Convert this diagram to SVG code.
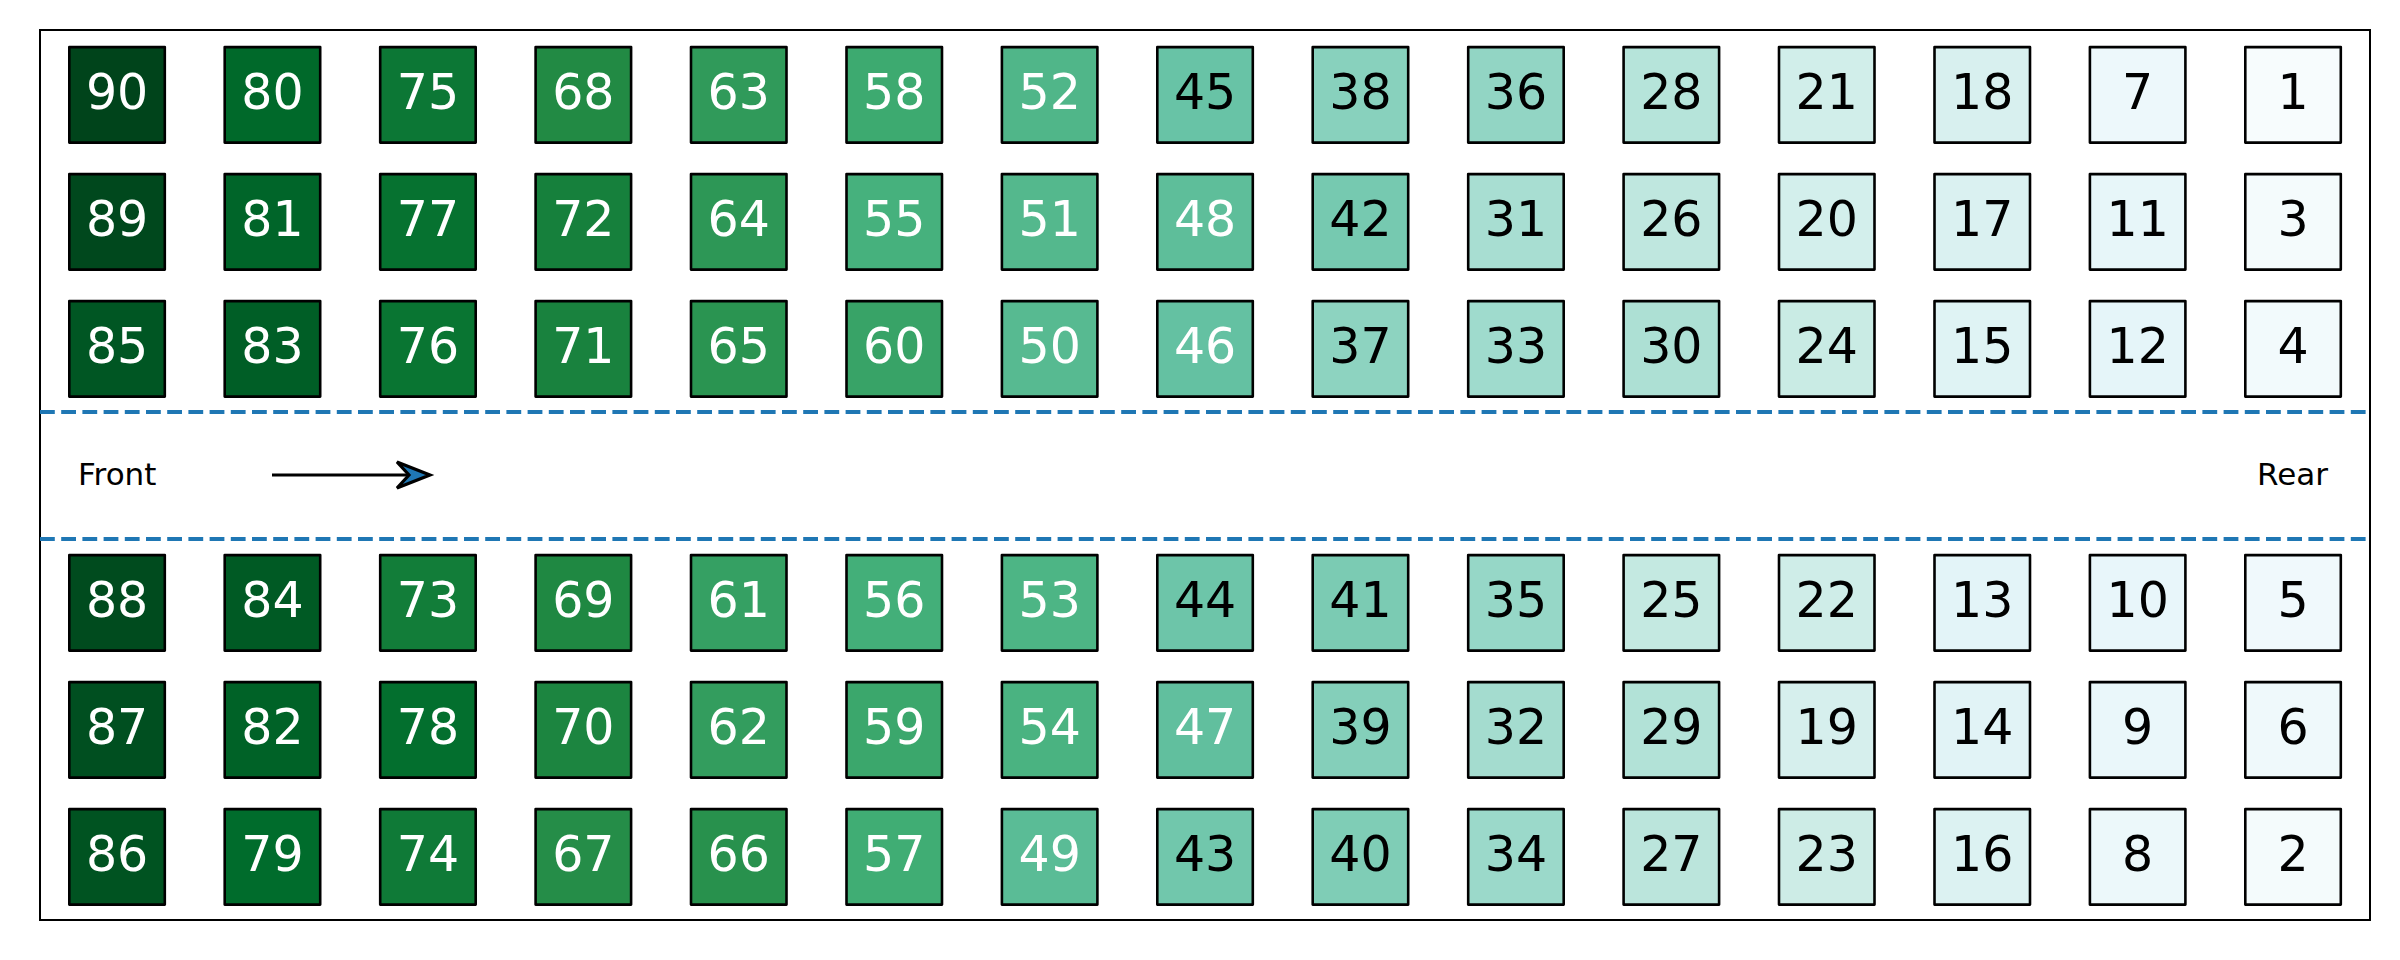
<svg xmlns="http://www.w3.org/2000/svg" width="2400" height="960" viewBox="0 0 2400 960">
<style>
.seat rect{stroke:#000;stroke-width:2.6;stroke-linejoin:round}
.seat text{font-family:"DejaVu Sans","Liberation Sans",sans-serif;font-size:49px;text-anchor:middle}
.w text{fill:#fff}
.b text{fill:#000}
.lbl{font-family:"DejaVu Sans","Liberation Sans",sans-serif;font-size:31px;fill:#000}
.aisle{stroke:#1f77b4;stroke-width:4;stroke-dasharray:14.8 6.4;fill:none}
</style>
<rect x="0" y="0" width="2400" height="960" fill="#fff"/>
<rect id="frame" x="40" y="30" width="2330" height="890" fill="none" stroke="#000" stroke-width="2"/>
<line class="aisle" x1="40" y1="412" x2="2370" y2="412"/>
<line class="aisle" x1="40" y1="539" x2="2370" y2="539"/>
<text class="lbl" x="78" y="485">Front</text>
<text class="lbl" x="2257" y="485">Rear</text>
<g id="connectors">
<line x1="272" y1="475" x2="420" y2="475" stroke="#000" stroke-width="3.2"/>
<path d="M397,462 L430,475 L397,488 L409,475 Z" fill="#1f77b4" stroke="#000" stroke-width="3.2" stroke-linejoin="miter"/>
</g>
<g id="seats">
<!-- col 0 -->
<g id="seat-90" class="seat w" transform="translate(117.05,94.85)"><rect x="-47.75" y="-47.75" width="95.5" height="95.5" fill="#00441b"/><text y="14">90</text></g>
<g id="seat-89" class="seat w" transform="translate(117.05,221.85)"><rect x="-47.75" y="-47.75" width="95.5" height="95.5" fill="#00481d"/><text y="14">89</text></g>
<g id="seat-85" class="seat w" transform="translate(117.05,348.85)"><rect x="-47.75" y="-47.75" width="95.5" height="95.5" fill="#005623"/><text y="14">85</text></g>
<g id="seat-88" class="seat w" transform="translate(117.05,602.85)"><rect x="-47.75" y="-47.75" width="95.5" height="95.5" fill="#004b1e"/><text y="14">88</text></g>
<g id="seat-87" class="seat w" transform="translate(117.05,729.85)"><rect x="-47.75" y="-47.75" width="95.5" height="95.5" fill="#004f20"/><text y="14">87</text></g>
<g id="seat-86" class="seat w" transform="translate(117.05,856.85)"><rect x="-47.75" y="-47.75" width="95.5" height="95.5" fill="#005321"/><text y="14">86</text></g>
<!-- col 1 -->
<g id="seat-80" class="seat w" transform="translate(272.45,94.85)"><rect x="-47.75" y="-47.75" width="95.5" height="95.5" fill="#00692a"/><text y="14">80</text></g>
<g id="seat-81" class="seat w" transform="translate(272.45,221.85)"><rect x="-47.75" y="-47.75" width="95.5" height="95.5" fill="#006529"/><text y="14">81</text></g>
<g id="seat-83" class="seat w" transform="translate(272.45,348.85)"><rect x="-47.75" y="-47.75" width="95.5" height="95.5" fill="#005e26"/><text y="14">83</text></g>
<g id="seat-84" class="seat w" transform="translate(272.45,602.85)"><rect x="-47.75" y="-47.75" width="95.5" height="95.5" fill="#005a24"/><text y="14">84</text></g>
<g id="seat-82" class="seat w" transform="translate(272.45,729.85)"><rect x="-47.75" y="-47.75" width="95.5" height="95.5" fill="#006227"/><text y="14">82</text></g>
<g id="seat-79" class="seat w" transform="translate(272.45,856.85)"><rect x="-47.75" y="-47.75" width="95.5" height="95.5" fill="#006c2c"/><text y="14">79</text></g>
<!-- col 2 -->
<g id="seat-75" class="seat w" transform="translate(427.95,94.85)"><rect x="-47.75" y="-47.75" width="95.5" height="95.5" fill="#0c7735"/><text y="14">75</text></g>
<g id="seat-77" class="seat w" transform="translate(427.95,221.85)"><rect x="-47.75" y="-47.75" width="95.5" height="95.5" fill="#067230"/><text y="14">77</text></g>
<g id="seat-76" class="seat w" transform="translate(427.95,348.85)"><rect x="-47.75" y="-47.75" width="95.5" height="95.5" fill="#097532"/><text y="14">76</text></g>
<g id="seat-73" class="seat w" transform="translate(427.95,602.85)"><rect x="-47.75" y="-47.75" width="95.5" height="95.5" fill="#127d39"/><text y="14">73</text></g>
<g id="seat-78" class="seat w" transform="translate(427.95,729.85)"><rect x="-47.75" y="-47.75" width="95.5" height="95.5" fill="#036f2e"/><text y="14">78</text></g>
<g id="seat-74" class="seat w" transform="translate(427.95,856.85)"><rect x="-47.75" y="-47.75" width="95.5" height="95.5" fill="#0f7a37"/><text y="14">74</text></g>
<!-- col 3 -->
<g id="seat-68" class="seat w" transform="translate(583.35,94.85)"><rect x="-47.75" y="-47.75" width="95.5" height="95.5" fill="#228a44"/><text y="14">68</text></g>
<g id="seat-72" class="seat w" transform="translate(583.35,221.85)"><rect x="-47.75" y="-47.75" width="95.5" height="95.5" fill="#16803c"/><text y="14">72</text></g>
<g id="seat-71" class="seat w" transform="translate(583.35,348.85)"><rect x="-47.75" y="-47.75" width="95.5" height="95.5" fill="#19823e"/><text y="14">71</text></g>
<g id="seat-69" class="seat w" transform="translate(583.35,602.85)"><rect x="-47.75" y="-47.75" width="95.5" height="95.5" fill="#1f8842"/><text y="14">69</text></g>
<g id="seat-70" class="seat w" transform="translate(583.35,729.85)"><rect x="-47.75" y="-47.75" width="95.5" height="95.5" fill="#1c8540"/><text y="14">70</text></g>
<g id="seat-67" class="seat w" transform="translate(583.35,856.85)"><rect x="-47.75" y="-47.75" width="95.5" height="95.5" fill="#258d48"/><text y="14">67</text></g>
<!-- col 4 -->
<g id="seat-63" class="seat w" transform="translate(738.75,94.85)"><rect x="-47.75" y="-47.75" width="95.5" height="95.5" fill="#309a5a"/><text y="14">63</text></g>
<g id="seat-64" class="seat w" transform="translate(738.75,221.85)"><rect x="-47.75" y="-47.75" width="95.5" height="95.5" fill="#2d9756"/><text y="14">64</text></g>
<g id="seat-65" class="seat w" transform="translate(738.75,348.85)"><rect x="-47.75" y="-47.75" width="95.5" height="95.5" fill="#2a9451"/><text y="14">65</text></g>
<g id="seat-61" class="seat w" transform="translate(738.75,602.85)"><rect x="-47.75" y="-47.75" width="95.5" height="95.5" fill="#35a063"/><text y="14">61</text></g>
<g id="seat-62" class="seat w" transform="translate(738.75,729.85)"><rect x="-47.75" y="-47.75" width="95.5" height="95.5" fill="#339d5e"/><text y="14">62</text></g>
<g id="seat-66" class="seat w" transform="translate(738.75,856.85)"><rect x="-47.75" y="-47.75" width="95.5" height="95.5" fill="#28914d"/><text y="14">66</text></g>
<!-- col 5 -->
<g id="seat-58" class="seat w" transform="translate(894.25,94.85)"><rect x="-47.75" y="-47.75" width="95.5" height="95.5" fill="#3daa70"/><text y="14">58</text></g>
<g id="seat-55" class="seat w" transform="translate(894.25,221.85)"><rect x="-47.75" y="-47.75" width="95.5" height="95.5" fill="#46b17d"/><text y="14">55</text></g>
<g id="seat-60" class="seat w" transform="translate(894.25,348.85)"><rect x="-47.75" y="-47.75" width="95.5" height="95.5" fill="#38a367"/><text y="14">60</text></g>
<g id="seat-56" class="seat w" transform="translate(894.25,602.85)"><rect x="-47.75" y="-47.75" width="95.5" height="95.5" fill="#43af79"/><text y="14">56</text></g>
<g id="seat-59" class="seat w" transform="translate(894.25,729.85)"><rect x="-47.75" y="-47.75" width="95.5" height="95.5" fill="#3ba76c"/><text y="14">59</text></g>
<g id="seat-57" class="seat w" transform="translate(894.25,856.85)"><rect x="-47.75" y="-47.75" width="95.5" height="95.5" fill="#40ad74"/><text y="14">57</text></g>
<!-- col 6 -->
<g id="seat-52" class="seat w" transform="translate(1049.65,94.85)"><rect x="-47.75" y="-47.75" width="95.5" height="95.5" fill="#50b689"/><text y="14">52</text></g>
<g id="seat-51" class="seat w" transform="translate(1049.65,221.85)"><rect x="-47.75" y="-47.75" width="95.5" height="95.5" fill="#54b88d"/><text y="14">51</text></g>
<g id="seat-50" class="seat w" transform="translate(1049.65,348.85)"><rect x="-47.75" y="-47.75" width="95.5" height="95.5" fill="#57ba91"/><text y="14">50</text></g>
<g id="seat-53" class="seat w" transform="translate(1049.65,602.85)"><rect x="-47.75" y="-47.75" width="95.5" height="95.5" fill="#4db585"/><text y="14">53</text></g>
<g id="seat-54" class="seat w" transform="translate(1049.65,729.85)"><rect x="-47.75" y="-47.75" width="95.5" height="95.5" fill="#4ab381"/><text y="14">54</text></g>
<g id="seat-49" class="seat w" transform="translate(1049.65,856.85)"><rect x="-47.75" y="-47.75" width="95.5" height="95.5" fill="#5abc96"/><text y="14">49</text></g>
<!-- col 7 -->
<g id="seat-45" class="seat b" transform="translate(1205.05,94.85)"><rect x="-47.75" y="-47.75" width="95.5" height="95.5" fill="#68c3a6"/><text y="14">45</text></g>
<g id="seat-48" class="seat w" transform="translate(1205.05,221.85)"><rect x="-47.75" y="-47.75" width="95.5" height="95.5" fill="#5ebe9a"/><text y="14">48</text></g>
<g id="seat-46" class="seat w" transform="translate(1205.05,348.85)"><rect x="-47.75" y="-47.75" width="95.5" height="95.5" fill="#64c1a2"/><text y="14">46</text></g>
<g id="seat-44" class="seat b" transform="translate(1205.05,602.85)"><rect x="-47.75" y="-47.75" width="95.5" height="95.5" fill="#6dc5a9"/><text y="14">44</text></g>
<g id="seat-47" class="seat w" transform="translate(1205.05,729.85)"><rect x="-47.75" y="-47.75" width="95.5" height="95.5" fill="#61bf9e"/><text y="14">47</text></g>
<g id="seat-43" class="seat b" transform="translate(1205.05,856.85)"><rect x="-47.75" y="-47.75" width="95.5" height="95.5" fill="#71c7ac"/><text y="14">43</text></g>
<!-- col 8 -->
<g id="seat-38" class="seat b" transform="translate(1360.45,94.85)"><rect x="-47.75" y="-47.75" width="95.5" height="95.5" fill="#88d1bd"/><text y="14">38</text></g>
<g id="seat-42" class="seat b" transform="translate(1360.45,221.85)"><rect x="-47.75" y="-47.75" width="95.5" height="95.5" fill="#76c9b0"/><text y="14">42</text></g>
<g id="seat-37" class="seat b" transform="translate(1360.45,348.85)"><rect x="-47.75" y="-47.75" width="95.5" height="95.5" fill="#8dd3c0"/><text y="14">37</text></g>
<g id="seat-41" class="seat b" transform="translate(1360.45,602.85)"><rect x="-47.75" y="-47.75" width="95.5" height="95.5" fill="#7bcbb3"/><text y="14">41</text></g>
<g id="seat-39" class="seat b" transform="translate(1360.45,729.85)"><rect x="-47.75" y="-47.75" width="95.5" height="95.5" fill="#84cfba"/><text y="14">39</text></g>
<g id="seat-40" class="seat b" transform="translate(1360.45,856.85)"><rect x="-47.75" y="-47.75" width="95.5" height="95.5" fill="#7fcdb6"/><text y="14">40</text></g>
<!-- col 9 -->
<g id="seat-36" class="seat b" transform="translate(1515.95,94.85)"><rect x="-47.75" y="-47.75" width="95.5" height="95.5" fill="#92d5c4"/><text y="14">36</text></g>
<g id="seat-31" class="seat b" transform="translate(1515.95,221.85)"><rect x="-47.75" y="-47.75" width="95.5" height="95.5" fill="#a8ded2"/><text y="14">31</text></g>
<g id="seat-33" class="seat b" transform="translate(1515.95,348.85)"><rect x="-47.75" y="-47.75" width="95.5" height="95.5" fill="#9fdbcd"/><text y="14">33</text></g>
<g id="seat-35" class="seat b" transform="translate(1515.95,602.85)"><rect x="-47.75" y="-47.75" width="95.5" height="95.5" fill="#96d7c7"/><text y="14">35</text></g>
<g id="seat-32" class="seat b" transform="translate(1515.95,729.85)"><rect x="-47.75" y="-47.75" width="95.5" height="95.5" fill="#a4dccf"/><text y="14">32</text></g>
<g id="seat-34" class="seat b" transform="translate(1515.95,856.85)"><rect x="-47.75" y="-47.75" width="95.5" height="95.5" fill="#9bd9ca"/><text y="14">34</text></g>
<!-- col 10 -->
<g id="seat-28" class="seat b" transform="translate(1671.35,94.85)"><rect x="-47.75" y="-47.75" width="95.5" height="95.5" fill="#b6e4da"/><text y="14">28</text></g>
<g id="seat-26" class="seat b" transform="translate(1671.35,221.85)"><rect x="-47.75" y="-47.75" width="95.5" height="95.5" fill="#bfe7df"/><text y="14">26</text></g>
<g id="seat-30" class="seat b" transform="translate(1671.35,348.85)"><rect x="-47.75" y="-47.75" width="95.5" height="95.5" fill="#ade0d4"/><text y="14">30</text></g>
<g id="seat-25" class="seat b" transform="translate(1671.35,602.85)"><rect x="-47.75" y="-47.75" width="95.5" height="95.5" fill="#c4e9e1"/><text y="14">25</text></g>
<g id="seat-29" class="seat b" transform="translate(1671.35,729.85)"><rect x="-47.75" y="-47.75" width="95.5" height="95.5" fill="#b2e2d7"/><text y="14">29</text></g>
<g id="seat-27" class="seat b" transform="translate(1671.35,856.85)"><rect x="-47.75" y="-47.75" width="95.5" height="95.5" fill="#bbe5dc"/><text y="14">27</text></g>
<!-- col 11 -->
<g id="seat-21" class="seat b" transform="translate(1826.75,94.85)"><rect x="-47.75" y="-47.75" width="95.5" height="95.5" fill="#d1eeea"/><text y="14">21</text></g>
<g id="seat-20" class="seat b" transform="translate(1826.75,221.85)"><rect x="-47.75" y="-47.75" width="95.5" height="95.5" fill="#d3efec"/><text y="14">20</text></g>
<g id="seat-24" class="seat b" transform="translate(1826.75,348.85)"><rect x="-47.75" y="-47.75" width="95.5" height="95.5" fill="#c9ebe4"/><text y="14">24</text></g>
<g id="seat-22" class="seat b" transform="translate(1826.75,602.85)"><rect x="-47.75" y="-47.75" width="95.5" height="95.5" fill="#cfede8"/><text y="14">22</text></g>
<g id="seat-19" class="seat b" transform="translate(1826.75,729.85)"><rect x="-47.75" y="-47.75" width="95.5" height="95.5" fill="#d6efed"/><text y="14">19</text></g>
<g id="seat-23" class="seat b" transform="translate(1826.75,856.85)"><rect x="-47.75" y="-47.75" width="95.5" height="95.5" fill="#cdece6"/><text y="14">23</text></g>
<!-- col 12 -->
<g id="seat-18" class="seat b" transform="translate(1982.25,94.85)"><rect x="-47.75" y="-47.75" width="95.5" height="95.5" fill="#d8f0ef"/><text y="14">18</text></g>
<g id="seat-17" class="seat b" transform="translate(1982.25,221.85)"><rect x="-47.75" y="-47.75" width="95.5" height="95.5" fill="#daf1f1"/><text y="14">17</text></g>
<g id="seat-15" class="seat b" transform="translate(1982.25,348.85)"><rect x="-47.75" y="-47.75" width="95.5" height="95.5" fill="#dff3f4"/><text y="14">15</text></g>
<g id="seat-13" class="seat b" transform="translate(1982.25,602.85)"><rect x="-47.75" y="-47.75" width="95.5" height="95.5" fill="#e3f4f8"/><text y="14">13</text></g>
<g id="seat-14" class="seat b" transform="translate(1982.25,729.85)"><rect x="-47.75" y="-47.75" width="95.5" height="95.5" fill="#e1f3f6"/><text y="14">14</text></g>
<g id="seat-16" class="seat b" transform="translate(1982.25,856.85)"><rect x="-47.75" y="-47.75" width="95.5" height="95.5" fill="#dcf2f2"/><text y="14">16</text></g>
<!-- col 13 -->
<g id="seat-7" class="seat b" transform="translate(2137.65,94.85)"><rect x="-47.75" y="-47.75" width="95.5" height="95.5" fill="#edf8fb"/><text y="14">7</text></g>
<g id="seat-11" class="seat b" transform="translate(2137.65,221.85)"><rect x="-47.75" y="-47.75" width="95.5" height="95.5" fill="#e7f6f9"/><text y="14">11</text></g>
<g id="seat-12" class="seat b" transform="translate(2137.65,348.85)"><rect x="-47.75" y="-47.75" width="95.5" height="95.5" fill="#e5f5f9"/><text y="14">12</text></g>
<g id="seat-10" class="seat b" transform="translate(2137.65,602.85)"><rect x="-47.75" y="-47.75" width="95.5" height="95.5" fill="#e8f6fa"/><text y="14">10</text></g>
<g id="seat-9" class="seat b" transform="translate(2137.65,729.85)"><rect x="-47.75" y="-47.75" width="95.5" height="95.5" fill="#eaf7fa"/><text y="14">9</text></g>
<g id="seat-8" class="seat b" transform="translate(2137.65,856.85)"><rect x="-47.75" y="-47.75" width="95.5" height="95.5" fill="#ecf8fa"/><text y="14">8</text></g>
<!-- col 14 -->
<g id="seat-1" class="seat b" transform="translate(2293.05,94.85)"><rect x="-47.75" y="-47.75" width="95.5" height="95.5" fill="#f7fcfd"/><text y="14">1</text></g>
<g id="seat-3" class="seat b" transform="translate(2293.05,221.85)"><rect x="-47.75" y="-47.75" width="95.5" height="95.5" fill="#f4fbfc"/><text y="14">3</text></g>
<g id="seat-4" class="seat b" transform="translate(2293.05,348.85)"><rect x="-47.75" y="-47.75" width="95.5" height="95.5" fill="#f2fafc"/><text y="14">4</text></g>
<g id="seat-5" class="seat b" transform="translate(2293.05,602.85)"><rect x="-47.75" y="-47.75" width="95.5" height="95.5" fill="#f0f9fc"/><text y="14">5</text></g>
<g id="seat-6" class="seat b" transform="translate(2293.05,729.85)"><rect x="-47.75" y="-47.75" width="95.5" height="95.5" fill="#eff9fb"/><text y="14">6</text></g>
<g id="seat-2" class="seat b" transform="translate(2293.05,856.85)"><rect x="-47.75" y="-47.75" width="95.5" height="95.5" fill="#f4fbfc"/><text y="14">2</text></g>
</g>
</svg>
